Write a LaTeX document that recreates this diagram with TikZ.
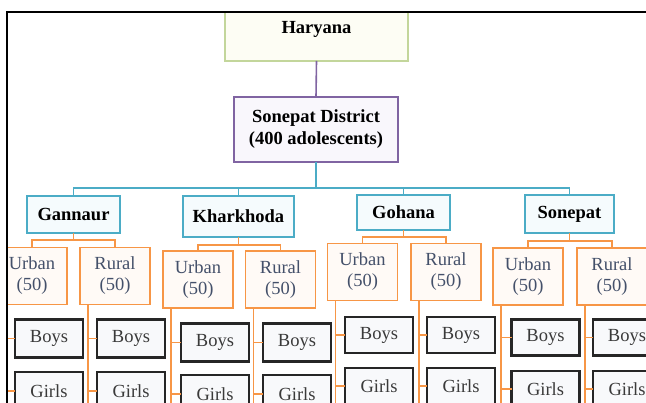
\documentclass[tikz,border=0pt]{standalone}
\usepackage{fontspec}
\setmainfont{Liberation Serif}
\definecolor{harc}{HTML}{C3D69B}
\definecolor{harf}{HTML}{FDFDF4}
\definecolor{purc}{HTML}{8064A2}
\definecolor{purf}{HTML}{F9F7FC}
\definecolor{tealc}{HTML}{4BACC6}
\definecolor{tealf}{HTML}{F5FBFD}
\definecolor{orac}{HTML}{F79646}
\definecolor{oraf}{HTML}{FFFAF6}
\definecolor{blkc}{HTML}{262626}
\definecolor{blkf}{HTML}{F8F9FB}
\definecolor{urtxt}{HTML}{44506A}
\definecolor{bgtxt}{HTML}{3A3A3A}
\tikzset{
  basebox/.style={inner sep=0pt, outer sep=0pt, align=center,
    font=\fontsize{18.5}{21}\selectfont},
  harbox/.style={basebox, draw=harc, fill=harf, line width=1.8pt, font=\fontsize{18.5}{22}\selectfont\bfseries},
  purbox/.style={basebox, draw=purc, fill=purf, line width=1.8pt, font=\fontsize{18.5}{22}\selectfont\bfseries},
  distbox/.style={basebox, draw=tealc, fill=tealf, line width=1.8pt, font=\fontsize{18.5}{22}\selectfont\bfseries, text=black},
  urbox/.style={basebox, draw=orac, fill=oraf, line width=1.8pt, minimum width=70pt, minimum height=57pt, text=urtxt},
  sexbox/.style={basebox, draw=blkc, fill=blkf, line width=2.9pt, minimum width=68pt, minimum height=38pt, text=bgtxt},
  purline/.style={draw=purc, line width=1.6pt},
  tealline/.style={draw=tealc, line width=1.6pt},
  oraline/.style={draw=orac, line width=1.6pt},
  frameline/.style={draw=black, line width=1.3pt}
}
\begin{document}
\begin{tikzpicture}[x=1pt,y=-1pt]
\useasboundingbox (0,0) rectangle (646,403);
\fill[white] (0,0) rectangle (646,403);
\begin{scope}
\clip (7,12) rectangle (646,403);
% top levels
\node[harbox, minimum width=183pt, minimum height=64pt] (har) at (316.5,29) {Haryana};
\node[purbox, minimum width=164pt, minimum height=65pt] (sd) at (316,129.5) {Sonepat District\\(400 adolescents)};
\draw[purline] (har.south) -- (sd.north);
% districts
\node[distbox, minimum width=93pt, minimum height=37pt] (gan) at (73.5,214.5) {Gannaur};
\node[distbox, minimum width=111pt, minimum height=41pt] (kha) at (238.5,216.5) {Kharkhoda};
\node[distbox, minimum width=93pt, minimum height=35pt] (goh) at (403.5,212.5) {Gohana};
\node[distbox, minimum width=89pt, minimum height=38pt] (son) at (569.5,214) {Sonepat};
\coordinate (tb) at (316,188);
\draw[tealline] (sd.south) -- (sd.south |- tb);
\draw[tealline] (gan.north) -- (gan.north |- tb) -- (son.north |- tb) -- (son.north);
\draw[tealline] (kha.north) -- (kha.north |- tb);
\draw[tealline] (goh.north) -- (goh.north |- tb);
% urban / rural
\node[urbox] (ganU) at (32,276) {Urban\\(50)};
\node[urbox] (ganR) at (115,276) {Rural\\(50)};
\node[urbox] (khaU) at (198,279.5) {Urban\\(50)};
\node[urbox] (khaR) at (280.5,279.5) {Rural\\(50)};
\node[urbox] (gohU) at (362.5,272) {Urban\\(50)};
\node[urbox] (gohR) at (446,272) {Rural\\(50)};
\node[urbox] (sonU) at (528,276.5) {Urban\\(50)};
\node[urbox] (sonR) at (612,276.5) {Rural\\(50)};
\draw[oraline] (gan.south) -- ++(0,7) -| (ganU.north);
\draw[oraline] (gan.south) -- ++(0,7) -| (ganR.north);
\draw[oraline] (kha.south) -- ++(0,8) -| (khaU.north);
\draw[oraline] (kha.south) -- ++(0,8) -| (khaR.north);
\draw[oraline] (goh.south) -- ++(0,7) -| (gohU.north);
\draw[oraline] (goh.south) -- ++(0,7) -| (gohR.north);
\draw[oraline] (son.south) -- ++(0,8) -| (sonU.north);
\draw[oraline] (son.south) -- ++(0,8) -| (sonR.north);
% boys / girls
\node[sexbox] (ganUB) at (49,338.5) {Boys};
\node[sexbox] (ganUG) at (49,391) {Girls};
\node[sexbox] (ganRB) at (131,338.5) {Boys};
\node[sexbox] (ganRG) at (131,391) {Girls};
\node[sexbox] (khaUB) at (215,342.5) {Boys};
\node[sexbox] (khaUG) at (215,394) {Girls};
\node[sexbox] (khaRB) at (297,342.5) {Boys};
\node[sexbox] (khaRG) at (297,394) {Girls};
\node[sexbox, minimum height=36pt] (gohUB) at (379,335) {Boys};
\node[sexbox, minimum height=36pt] (gohUG) at (379,386) {Girls};
\node[sexbox, minimum height=36pt] (gohRB) at (461,335) {Boys};
\node[sexbox, minimum height=36pt] (gohRG) at (461,386) {Girls};
\node[sexbox, minimum height=36pt] (sonUB) at (545.5,337.5) {Boys};
\node[sexbox, minimum height=36pt] (sonUG) at (545.5,389) {Girls};
\node[sexbox, minimum height=36pt] (sonRB) at (627,337.5) {Boys};
\node[sexbox, minimum height=36pt] (sonRG) at (627,389) {Girls};
% vertical feeders
\foreach \u/\b/\g in {ganU/ganUB/ganUG, ganR/ganRB/ganRG, khaU/khaUB/khaUG, khaR/khaRB/khaRG,
                      gohU/gohUB/gohUG, gohR/gohRB/gohRG, sonU/sonUB/sonUG, sonR/sonRB/sonRG}{
  \coordinate (v) at ([xshift=8pt]\u.south west);
  \draw[oraline] (v) -- (v |- 0,410);
  \draw[oraline] (v |- \b.west) -- (\b.west);
  \draw[oraline] (v |- \g.west) -- (\g.west);
}
\end{scope}
\draw[frameline] (7,403) -- (7,12) -- (646,12);
\end{tikzpicture}
\end{document}
